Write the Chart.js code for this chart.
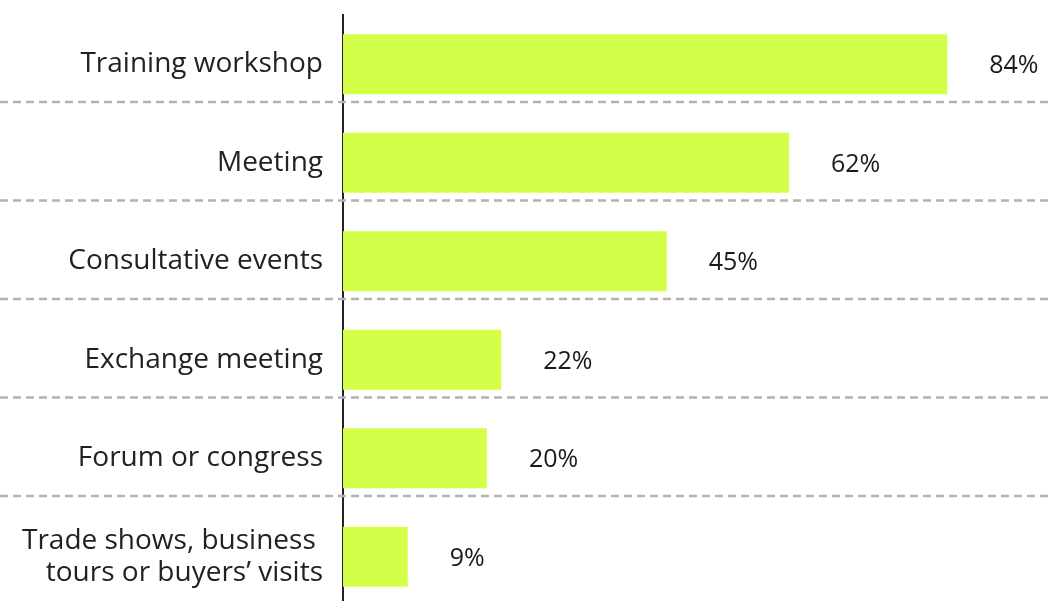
<!DOCTYPE html>
<html>
<head>
<meta charset="utf-8">
<script src="https://cdn.jsdelivr.net/npm/chart.js@4"></script>
<style>
  html, body { margin: 0; padding: 0; background: #fff; overflow: hidden; }
  /* plot runs a few px past the bottom edge like the original */
  #wrap { width: 1048px; height: 606px; }
</style>
</head>
<body>
<div id="wrap"><canvas id="eventsChart"></canvas></div>
<script>
const categories = [
  "Training workshop",
  "Meeting",
  "Consultative events",
  "Exchange meeting",
  "Forum or congress",
  ["Trade shows, business ", "tours or buyers\u2019 visits"],
];
const shares = [84, 62, 45, 22, 20, 9];
const valueLabels = ["84%", "62%", "45%", "22%", "20%", "9%"];

const FONT = "'Open Sans', sans-serif";

// dashed separators between rows, full width
const separators = {
  id: "separators",
  beforeDatasetsDraw(chart) {
    const y = chart.scales.y;
    const ctx = chart.ctx;
    ctx.save();
    ctx.strokeStyle = "#b3b3b3";
    ctx.lineWidth = 2.5;
    ctx.setLineDash([8, 5]);
    for (let i = 0; i < categories.length - 1; i++) {
      let mid = (y.getPixelForValue(i) + y.getPixelForValue(i + 1)) / 2 - 11.5;
      ctx.beginPath();
      ctx.moveTo(0, mid);
      ctx.lineTo(chart.width, mid);
      ctx.stroke();
    }
    ctx.restore();
  },
};

// percentage text to the right of each bar
const barValues = {
  id: "barValues",
  afterDatasetsDraw(chart) {
    const ctx = chart.ctx;
    const meta = chart.getDatasetMeta(0);
    ctx.save();
    ctx.fillStyle = "#1a1a1a";
    ctx.font = "500 25px " + FONT;
    ctx.textAlign = "left";
    ctx.textBaseline = "middle";
    meta.data.forEach((bar, i) => {
      ctx.fillText(valueLabels[i], bar.x + 42, bar.y + 2);
    });
    ctx.restore();
  },
};

new Chart(document.getElementById("eventsChart"), {
  type: "bar",
  data: {
    labels: categories,
    datasets: [
      {
        data: shares,
        backgroundColor: "#d4ff48",
        borderWidth: 0,
        categoryPercentage: 1,
        barPercentage: 0.61,
      },
    ],
  },
  options: {
    indexAxis: "y",
    responsive: true,
    maintainAspectRatio: false,
    animation: false,
    layout: { autoPadding: false, padding: { top: 15, bottom: 0, left: 0, right: 0 } },
    plugins: {
      legend: { display: false },
      tooltip: { enabled: false },
    },
    scales: {
      x: {
        display: false,
        min: 0,
        max: 98,
      },
      y: {
        afterFit(scale) {
          scale.width = 343;
          scale.paddingTop = 0; // labels were pushing the plot area in
          scale.paddingBottom = 0;
        },
        grid: { display: false, drawTicks: false },
        border: { display: true, color: "#222", width: 2 },
        ticks: {
          color: "#222",
          padding: 20,
          font: { family: FONT, size: 28, lineHeight: 1.15 },
        },
      },
    },
  },
  plugins: [separators, barValues],
});
</script>
</body>
</html>
